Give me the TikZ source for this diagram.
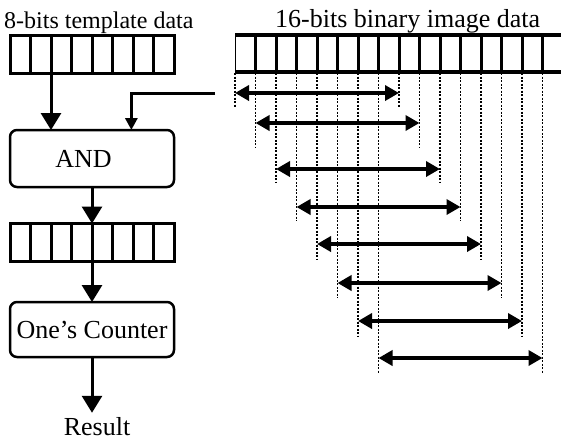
\documentclass[tikz,border=0pt]{standalone}
\usepackage{fontspec}
\setmainfont{Liberation Serif}
\usetikzlibrary{arrows.meta,calc}

\tikzset{
  reg/.style={draw, line width=3pt, minimum width=164pt, minimum height=38pt, inner sep=0pt, outer sep=0pt},
  procbox/.style={draw, line width=2.5pt, rounded corners=7pt, minimum width=164pt, inner sep=0pt, outer sep=0pt, font=\fontsize{26}{30}\selectfont},
  flow/.style={line width=3pt, -{Triangle[length=17pt,width=20pt]}},
  feedline/.style={line width=3pt, -{Triangle[length=12pt,width=12pt]}},
  span/.style={line width=3.5pt, {Triangle[length=14pt,width=15pt]}-{Triangle[length=14pt,width=15pt]}},
  guide/.style={line width=1.6pt, dash pattern=on 2pt off 1.5pt},
  lbl/.style={font=\fontsize{26}{30}\selectfont, inner sep=0pt}
}

\begin{document}
\begin{tikzpicture}[x=1pt, y=-1pt]

\useasboundingbox (0,0) rectangle (561,440);

%titles
\node[lbl, anchor=base west, font=\fontsize{24}{28}\selectfont] (tlabel) at (4,28) {8-bits template data};
\node[lbl, anchor=base west] (ilabel) at (275,27) {16-bits binary image data};

% template register
\node[reg] (tmpl) at (92,54) {};
\foreach \k in {1,...,7}
  \draw[line width=3pt] ($(tmpl.north west)!\k/8!(tmpl.north east)$) -- ($(tmpl.south west)!\k/8!(tmpl.south east)$);

% image register, cut at the right edge
\draw[line width=1pt] (235,34) -- (235,73);
\draw[line width=4pt] (235,35) -- (561,35);
\draw[line width=4pt] (235,72) -- (561,72);
\foreach \k in {1,...,15}
  \draw[line width=3pt] ({235+20.5*\k},35) -- ({235+20.5*\k},72);

%processing column
\node[procbox, minimum height=57pt] (and) at (92,158.5) {\hspace*{-17pt}AND};
\node[reg] (buf) at (92,242.5) {};
\foreach \k in {1,...,7}
  \draw[line width=3pt] ($(buf.north west)!\k/8!(buf.north east)$) -- ($(buf.south west)!\k/8!(buf.south east)$);
\node[procbox, minimum height=55pt] (cnt) at (92,329.5) {One's Counter};
\node[lbl, anchor=base] (res) at (97,435) {Result};

%vertical arrows
\draw[flow] ($(tmpl.south west)!0.25!(tmpl.south east)$) -- ($(and.north west)!0.25!(and.north east)$);
\coordinate (feed) at (215,93);
\draw[feedline] (feed) -| ($(and.north west)!0.74!(and.north east)$);
\draw[flow] (and) -- (buf);
\draw[flow] (buf.north) -- (cnt);
\draw[flow] (cnt.south) -- ([yshift=4pt]cnt.south |- res.north);

%window spans with dotted guides
\foreach \i/\ya/\yd in {0/93/107, 1/123/147, 2/169/183, 3/207/221, 4/244/259, 5/283/298, 6/321/337, 7/358/373}{
  \pgfmathsetmacro\xa{235+20.5*\i}
  \pgfmathsetmacro\xb{399+20.5*\i}
  \draw[guide] (\xa,73) -- (\xa,\yd);
  \draw[guide] (\xb,73) -- (\xb,\yd);
  \coordinate (s\i) at (\xa,\ya);
  \coordinate (e\i) at (\xb,\ya);
  \draw[span] (s\i) -- (e\i);
}

\end{tikzpicture}
\end{document}
